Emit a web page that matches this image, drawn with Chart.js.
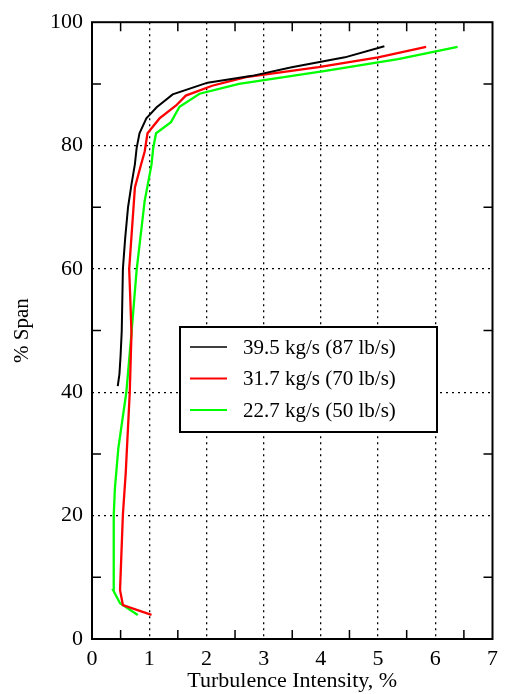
<!DOCTYPE html>
<html>
<head>
<meta charset="utf-8">
<script src="https://cdn.jsdelivr.net/npm/chart.js@4.4.1/dist/chart.umd.min.js"></script>
<style>
  html, body { margin: 0; padding: 0; background: #fff; }
  #wrap { width: 505px; height: 694px; }
</style>
</head>
<body>
<div id="wrap"><canvas id="tiChart" width="505" height="694"></canvas></div>
<script>
// Підписи серій
const seriesLabels = ['39.5 kg/s (87 lb/s)', '31.7 kg/s (70 lb/s)', '22.7 kg/s (50 lb/s)'];
const seriesColors = ['#000000', '#ff0000', '#00ff00'];

// Інтенсивність турбулентності, %
const ti87 = [0.45, 0.48, 0.50, 0.52, 0.54, 0.58, 0.63, 0.69, 0.75, 0.78, 0.83, 0.95, 1.13, 1.41, 2.02, 2.80, 3.49, 4.42, 5.11];
const ti70 = [1.04, 0.54, 0.49, 0.54, 0.59, 0.66, 0.69, 0.67, 0.65, 0.75, 0.86, 0.92, 0.97, 1.18, 1.47, 1.64, 2.10, 2.69, 3.96, 5.00, 5.84];
const ti50 = [0.80, 0.49, 0.37, 0.38, 0.40, 0.46, 0.60, 0.69, 0.78, 0.92, 1.04, 1.07, 1.12, 1.38, 1.53, 1.88, 2.57, 4.08, 5.35, 6.39];

// % висоти лопатки
const span87 = [41, 43, 46, 50, 60, 65, 70, 73.7, 77, 79.6, 82, 84.4, 86.2, 88.3, 90.2, 91.3, 92.7, 94.3, 96.1];
const span70 = [3.9, 5.5, 7.9, 20.2, 27, 40, 49.6, 55, 60, 73.2, 77, 79, 82, 84.4, 86.5, 88.1, 89.7, 91.1, 92.7, 94.3, 96.0];
const span50 = [3.9, 5.8, 7.9, 20, 24.4, 30.9, 40, 49.6, 59.8, 71, 76.9, 79.6, 82, 83.8, 86.3, 88.4, 90, 92.1, 94, 96];

const xTicks = [0, 1, 2, 3, 4, 5, 6, 7];
const yTicks = [0, 20, 40, 60, 80, 100];

function toPoints(xs, ys) {
    return xs.map((x, i) => ({ x: x, y: ys[i] }));
}

const FONT = 'Liberation Serif, Times New Roman, serif';

// Рамка, внутрішні засічки та легенда всередині графіка
const framePlugin = {
    id: 'frame',
    afterDraw(chart) {
        const { ctx, chartArea: a, scales } = chart;
        ctx.save();
        ctx.strokeStyle = '#000';
        ctx.lineWidth = 1.5;
        ctx.beginPath();
        for (let v = 0.5; v < 7; v += 1) {
            const px = scales.x.getPixelForValue(v);
            ctx.moveTo(px, a.bottom); ctx.lineTo(px, a.bottom - 9);
            ctx.moveTo(px, a.top); ctx.lineTo(px, a.top + 9);
        }
        for (let v = 10; v < 100; v += 20) {
            const py = scales.y.getPixelForValue(v);
            ctx.moveTo(a.left, py); ctx.lineTo(a.left + 9, py);
            ctx.moveTo(a.right, py); ctx.lineTo(a.right - 9, py);
        }
        ctx.stroke();
        ctx.lineWidth = 2;
        ctx.strokeRect(a.left, a.top, a.right - a.left, a.bottom - a.top);

        // легенда
        const lx = 180, ly = 327, lw = 257, lh = 105;
        ctx.fillStyle = '#fff';
        ctx.fillRect(lx, ly, lw, lh);
        ctx.lineWidth = 2;
        ctx.strokeRect(lx, ly, lw, lh);
        ctx.font = '21px ' + FONT;
        ctx.textBaseline = 'middle';
        chart.data.datasets.forEach((ds, i) => {
            const y = 347 + i * 31.5;
            ctx.strokeStyle = ds.borderColor;
            ctx.lineWidth = i === 0 ? 1.3 : 2.2;
            ctx.beginPath();
            ctx.moveTo(190, y); ctx.lineTo(227, y);
            ctx.stroke();
            ctx.fillStyle = '#000';
            ctx.fillText(ds.label, 243, y + 1);
        });
        ctx.restore();
    }
};

function gridColor(ctx) {
    const v = ctx.tick ? ctx.tick.value : null;
    const min = ctx.scale.min, max = ctx.scale.max;
    if (v === min || v === max) return 'rgba(0,0,0,0)';
    return '#000';
}

new Chart(document.getElementById('tiChart').getContext('2d'), {
    type: 'scatter',
    data: {
        datasets: [
            { label: seriesLabels[0], data: toPoints(ti87, span87), borderColor: seriesColors[0], borderWidth: 2 },
            { label: seriesLabels[1], data: toPoints(ti70, span70), borderColor: seriesColors[1], borderWidth: 2.3 },
            { label: seriesLabels[2], data: toPoints(ti50, span50), borderColor: seriesColors[2], borderWidth: 2.3 }
        ].map(ds => Object.assign(ds, { showLine: true, pointRadius: 0, tension: 0, fill: false }))
    },
    options: {
        responsive: false,
        animation: false,
        layout: { padding: { top: 16, right: 9, bottom: 0, left: 0 } },
        plugins: {
            legend: { display: false },
            tooltip: { enabled: false }
        },
        scales: {
            x: {
                type: 'linear',
                min: 0,
                max: 7,
                afterFit(scale) { scale.height = 55; },
                afterBuildTicks(scale) { scale.ticks = xTicks.map(v => ({ value: v })); },
                ticks: { color: '#000', padding: 7, font: { family: FONT, size: 22 } },
                grid: { color: gridColor, lineWidth: 1.3, drawTicks: false },
                border: { display: false, dash: [2, 4] },
                title: {
                    display: true,
                    text: 'Turbulence Intensity, %',
                    color: '#000',
                    font: { family: FONT, size: 22 },
                    padding: { top: 0, bottom: 0 }
                }
            },
            y: {
                type: 'linear',
                min: 0,
                max: 100,
                afterFit(scale) { scale.width = 92; },
                afterBuildTicks(scale) { scale.ticks = yTicks.map(v => ({ value: v })); },
                ticks: { color: '#000', padding: 9, font: { family: FONT, size: 22 } },
                grid: { color: gridColor, lineWidth: 1.3, drawTicks: false },
                border: { display: false, dash: [2, 4] },
                title: {
                    display: true,
                    text: '% Span',
                    color: '#000',
                    font: { family: FONT, size: 21 },
                    padding: { top: 10, bottom: 0 }
                }
            }
        }
    },
    plugins: [framePlugin]
});
</script>
</body>
</html>
